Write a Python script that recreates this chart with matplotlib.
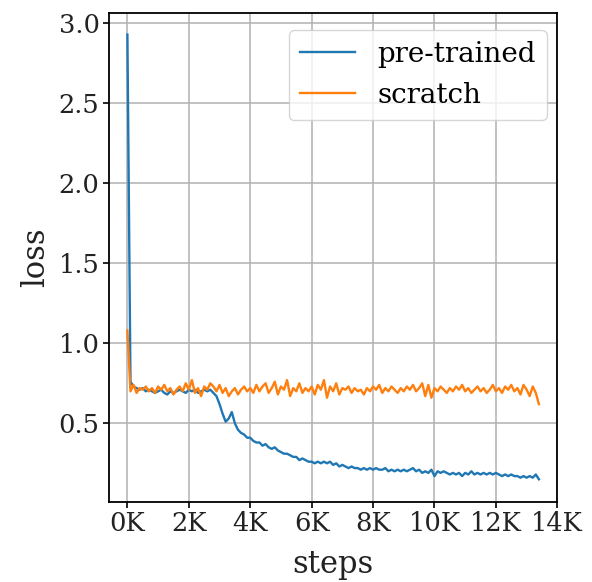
import matplotlib
matplotlib.use("Agg")
import matplotlib.pyplot as plt
from matplotlib.ticker import FuncFormatter, MultipleLocator

steps = list(range(0, 13500, 100))

pretrained = [
    2.93, 0.76, 0.73, 0.72, 0.71, 0.72, 0.70, 0.71, 0.70, 0.69,
    0.70, 0.71, 0.69, 0.68, 0.70, 0.69, 0.70, 0.71, 0.70, 0.69,
    0.71, 0.70, 0.71, 0.69, 0.70, 0.71, 0.70, 0.71, 0.69, 0.67,
    0.62, 0.56, 0.51, 0.53, 0.57, 0.50, 0.46, 0.44, 0.43, 0.41,
    0.41, 0.39, 0.38, 0.38, 0.36, 0.37, 0.35, 0.34, 0.35, 0.33,
    0.32, 0.31, 0.31, 0.30, 0.29, 0.29, 0.27, 0.28, 0.27, 0.26,
    0.26, 0.25, 0.26, 0.25, 0.26, 0.25, 0.26, 0.24, 0.25, 0.23,
    0.24, 0.23, 0.22, 0.23, 0.22, 0.22, 0.21, 0.22, 0.21, 0.22,
    0.21, 0.22, 0.21, 0.21, 0.22, 0.20, 0.21, 0.20, 0.21, 0.20,
    0.21, 0.20, 0.21, 0.22, 0.20, 0.21, 0.19, 0.20, 0.19, 0.21,
    0.17, 0.20, 0.19, 0.20, 0.19, 0.18, 0.19, 0.18, 0.19, 0.17,
    0.19, 0.18, 0.20, 0.18, 0.19, 0.18, 0.19, 0.18, 0.19, 0.18,
    0.19, 0.18, 0.17, 0.18, 0.17, 0.18, 0.17, 0.17, 0.16, 0.17,
    0.16, 0.17, 0.16, 0.18, 0.15,
]

scratch = [
    1.08, 0.70, 0.74, 0.69, 0.72, 0.71, 0.73, 0.70, 0.72, 0.69,
    0.73, 0.71, 0.74, 0.70, 0.72, 0.68, 0.71, 0.73, 0.70, 0.75,
    0.71, 0.77, 0.69, 0.72, 0.67, 0.73, 0.71, 0.75, 0.73, 0.70,
    0.74, 0.69, 0.72, 0.67, 0.70, 0.72, 0.68, 0.71, 0.73, 0.70,
    0.72, 0.69, 0.74, 0.70, 0.73, 0.75, 0.69, 0.72, 0.76, 0.68,
    0.73, 0.71, 0.77, 0.67, 0.72, 0.70, 0.75, 0.69, 0.72, 0.70,
    0.73, 0.68, 0.74, 0.71, 0.77, 0.66, 0.73, 0.70, 0.75, 0.68,
    0.72, 0.71, 0.73, 0.69, 0.72, 0.70, 0.71, 0.68, 0.72, 0.70,
    0.73, 0.71, 0.74, 0.69, 0.72, 0.70, 0.73, 0.71, 0.69, 0.72,
    0.70, 0.73, 0.71, 0.74, 0.70, 0.72, 0.75, 0.67, 0.74, 0.66,
    0.72, 0.70, 0.73, 0.71, 0.69, 0.72, 0.70, 0.73, 0.71, 0.74,
    0.70, 0.72, 0.69, 0.71, 0.73, 0.70, 0.72, 0.69, 0.71, 0.74,
    0.70, 0.72, 0.69, 0.73, 0.71, 0.74, 0.70, 0.72, 0.68, 0.74,
    0.71, 0.67, 0.73, 0.69, 0.62,
]

plt.rcParams['font.family'] = ['DejaVu Serif']

fig = plt.figure(figsize=(5.92, 5.82), dpi=100)
ax = fig.add_axes([0.1846, 0.138, 0.7568, 0.839])

ax.plot(steps, pretrained, color='#1f77b4', lw=1.7, label='pre-trained')
ax.plot(steps, scratch, color='#ff7f0e', lw=1.7, label='scratch')

ax.set_xlim(-590, 14000)
ax.set_ylim(0.01, 3.0625)
ax.xaxis.set_major_locator(MultipleLocator(2000))
ax.yaxis.set_major_locator(MultipleLocator(0.5))
ax.xaxis.set_major_formatter(FuncFormatter(lambda v, p: f"{int(round(v/1000))}K"))
ax.tick_params(labelsize=18.5, width=1.2, length=4, pad=3, labelcolor='#222222')
ax.set_xlabel('steps', fontsize=22, labelpad=9, color='#222222')
ax.set_ylabel('loss', fontsize=22, labelpad=5, color='#222222')
ax.grid(True, color='#b0b0b0', lw=1.3, alpha=0.85)
for s in ax.spines.values():
    s.set_linewidth(1.3)

ax.legend(loc='upper right', fontsize=20, handlelength=2.0,
          bbox_to_anchor=(0.977, 0.966), borderaxespad=0)

fig.savefig('out.png', dpi=100)
